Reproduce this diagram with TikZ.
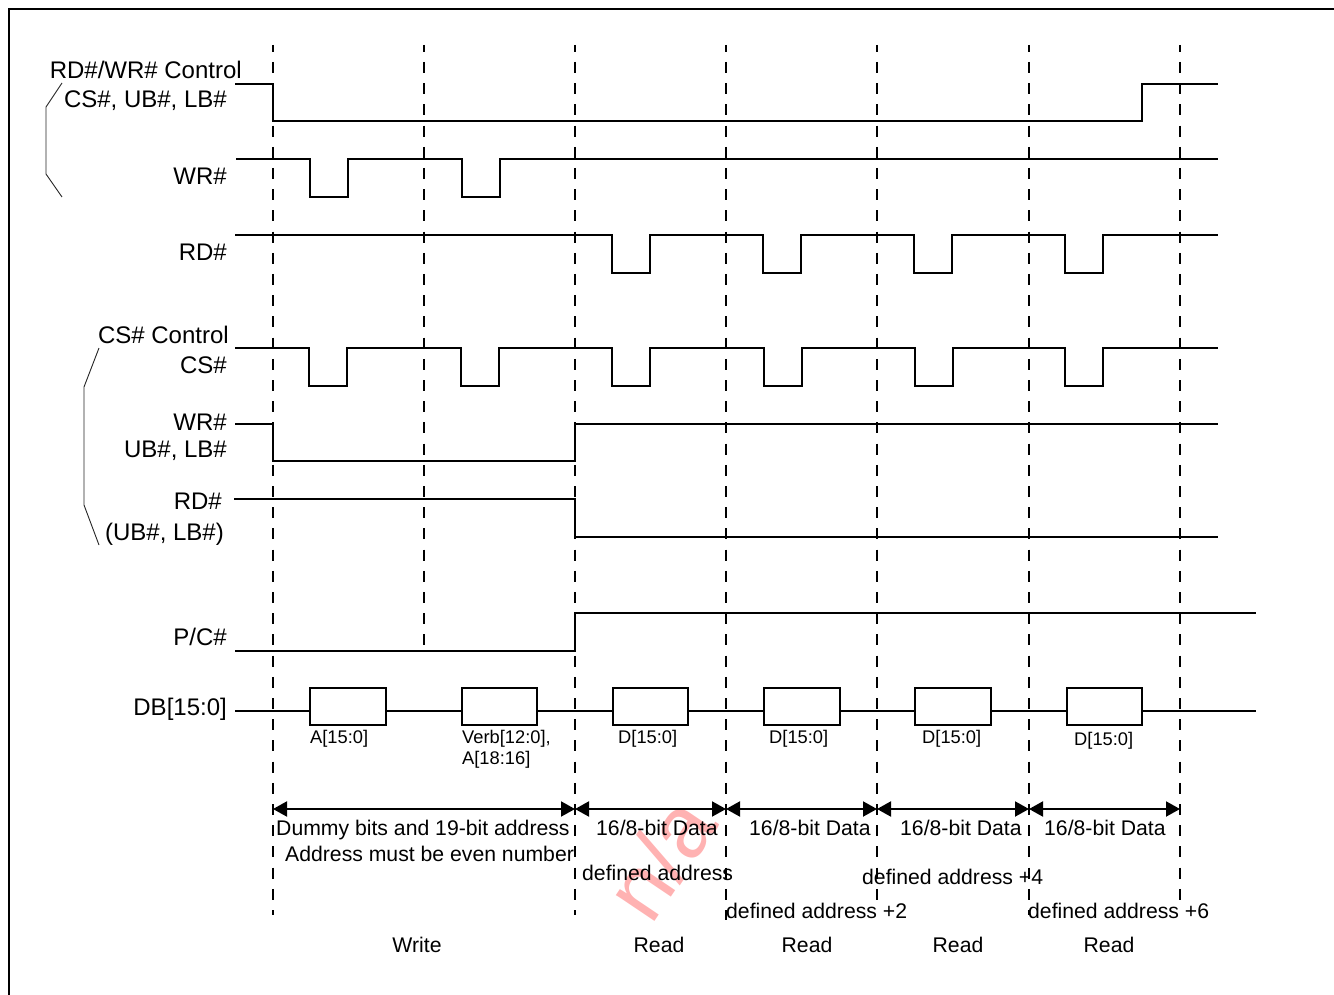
\documentclass[tikz,border=0pt]{standalone}
\usepackage{fontspec}
\setmainfont{Liberation Sans}
\usetikzlibrary{arrows.meta}
\tikzset{
  x=1pt,y=-1pt,
  lab/.style={inner sep=0pt,text height=15.3pt,text depth=0pt,font=\fontsize{21.2}{24}\selectfont,text=black},
  biglab/.style={inner sep=0pt,text height=17.3pt,text depth=0pt,font=\fontsize{24}{26}\selectfont,text=black},
  small/.style={inner sep=0pt,text height=13.2pt,text depth=0pt,font=\fontsize{18.3}{21}\selectfont,text=black},
  smallblock/.style={inner sep=0pt,font=\fontsize{18.3}{21}\selectfont,text=black,align=left},
  sig/.style={line width=2pt,line join=miter},
  guide/.style={line width=2pt,dash pattern=on 11pt off 10.2pt,dash phase=4.2pt},
  brace/.style={line width=0.9pt,black!85},
  span/.style={line width=2pt,{Triangle[length=14pt,width=15pt]}-{Triangle[length=14pt,width=15pt]},shorten >=0pt,shorten <=0pt},
  pulse/.style={line width=2pt,draw=black,fill=white}
}
\begin{document}
\begin{tikzpicture}
\useasboundingbox (0,0) rectangle (1334,995);
% watermark
\node[inner sep=0pt,rotate=56,text=red!30,font=\fontsize{88}{90}\selectfont] (wm) at (660,858) {n/a};
% frame
\draw[line width=2pt] (9,995) -- (9,9) -- (1334,9);
% guides
\foreach \n/\x/\e in {g1/273/915,g2/424/655,g3/575/915,g4/726/920,g5/877/900,g6/1029/915,g7/1180/905}{
  \coordinate (\n t) at (\x,45);
  \coordinate (\n b) at (\x,\e);
  \draw[guide] (\n t) -- (\n b);
}
% waveforms
\draw[sig] (235,84) -- (273,84) -- (273,121) -- (1142,121) -- (1142,84) -- (1218,84);
\draw[sig] (236,159) -- (310,159) -- (310,197) -- (348,197) -- (348,159) -- (462,159) -- (462,197) -- (500,197) -- (500,159) -- (1218,159);
\draw[sig] (235,235) -- (612,235) -- (612,273) -- (650,273) -- (650,235) -- (763,235) -- (763,273) -- (801,273) -- (801,235) -- (914,235) -- (914,273) -- (952,273) -- (952,235) -- (1065,235) -- (1065,273) -- (1103,273) -- (1103,235) -- (1218,235);
\draw[sig] (235,348) -- (309,348) -- (309,386) -- (347,386) -- (347,348) -- (461,348) -- (461,386) -- (499,386) -- (499,348) -- (612,348) -- (612,386) -- (650,386) -- (650,348) -- (764,348) -- (764,386) -- (802,386) -- (802,348) -- (915,348) -- (915,386) -- (953,386) -- (953,348) -- (1065,348) -- (1065,386) -- (1103,386) -- (1103,348) -- (1218,348);
\draw[sig] (235,424) -- (273,424) -- (273,461) -- (575,461) -- (575,424) -- (1218,424);
\draw[sig] (234,499) -- (575,499) -- (575,537) -- (1218,537);
\draw[sig] (235,651) -- (575,651) -- (575,613) -- (1256,613);
\draw[sig] (235,711) -- (1256,711);
\foreach \n/\a/\b in {b1/310/386,b2/462/537,b3/613/688,b4/764/840,b5/915/991,b6/1067/1142}{
  \pgfmathsetmacro{\boxw}{\b-\a}
  \node[pulse,inner sep=0pt,minimum width=\boxw pt,minimum height=37pt,anchor=north west] (\n) at (\a-1,687) {};
}
% brackets
\draw[brace] (62,83) -- (46,107) -- (46,174) -- (62,197);
\draw[brace] (99,348) -- (84,387) -- (84,505) -- (99,545);
% spans
\foreach \n/\a/\b in {s1/273/575,s2/575/726,s3/726/877,s4/877/1029,s5/1029/1180}{
  \coordinate (\n a) at (\a,809);
  \coordinate (\n b) at (\b,809);
  \draw[span] (\n a) -- (\n b);
}
% signal labels
\node[biglab,anchor=east] (t1) at (242,70) {RD\#/WR\# Control};
\node[biglab,anchor=east] (t2) at (227,99) {CS\#, UB\#, LB\#};
\node[biglab,anchor=east] (t3) at (227,176) {WR\#};
\node[biglab,anchor=east] (t4) at (227,252) {RD\#};
\node[biglab,anchor=east] (t5) at (229,335) {CS\# Control};
\node[biglab,anchor=east] (t6) at (227,365) {CS\#};
\node[biglab,anchor=east] (t7) at (227,422) {WR\#};
\node[biglab,anchor=east] (t8) at (227,449) {UB\#, LB\#};
\node[biglab,anchor=east] (t9) at (222,501) {RD\#};
\node[biglab,anchor=east] (t10) at (224,532) {(UB\#, LB\#)};
\node[biglab,anchor=east] (t11) at (227,637) {P/C\#};
\node[biglab,anchor=east] (t12) at (227,707) {DB[15:0]};
% bus labels
\node[small,anchor=west] (d1) at (310,737) {A[15:0]};
\node[smallblock,anchor=north west] (d2) at (462,730) {Verb[12:0],\\A[18:16]};
\node[small,anchor=west] (d3) at (618,737) {D[15:0]};
\node[small,anchor=west] (d4) at (769,737) {D[15:0]};
\node[small,anchor=west] (d5) at (922,737) {D[15:0]};
\node[small,anchor=west] (d6) at (1074,739) {D[15:0]};
% span labels
\node[lab,anchor=west] (u1) at (276,828) {Dummy bits and 19-bit address};
\node[lab,anchor=west] (u2) at (285,854) {Address must be even number};
\node[lab,anchor=west] (u3) at (596,828) {16/8-bit Data};
\node[lab,anchor=west] (u4) at (749,828) {16/8-bit Data};
\node[lab,anchor=west] (u5) at (900,828) {16/8-bit Data};
\node[lab,anchor=west] (u6) at (1044,828) {16/8-bit Data};
\node[lab,anchor=west] (u7) at (582,873) {defined address};
\node[lab,anchor=west] (u8) at (726,911) {defined address +2};
\node[lab,anchor=west] (u9) at (862,877) {defined address +4};
\node[lab,anchor=west] (u10) at (1028,911) {defined address +6};
\node[lab] (r1) at (417,945) {Write};
\node[lab] (r2) at (659,945) {Read};
\node[lab] (r3) at (807,945) {Read};
\node[lab] (r4) at (958,945) {Read};
\node[lab] (r5) at (1109,945) {Read};
\end{tikzpicture}
\end{document}
